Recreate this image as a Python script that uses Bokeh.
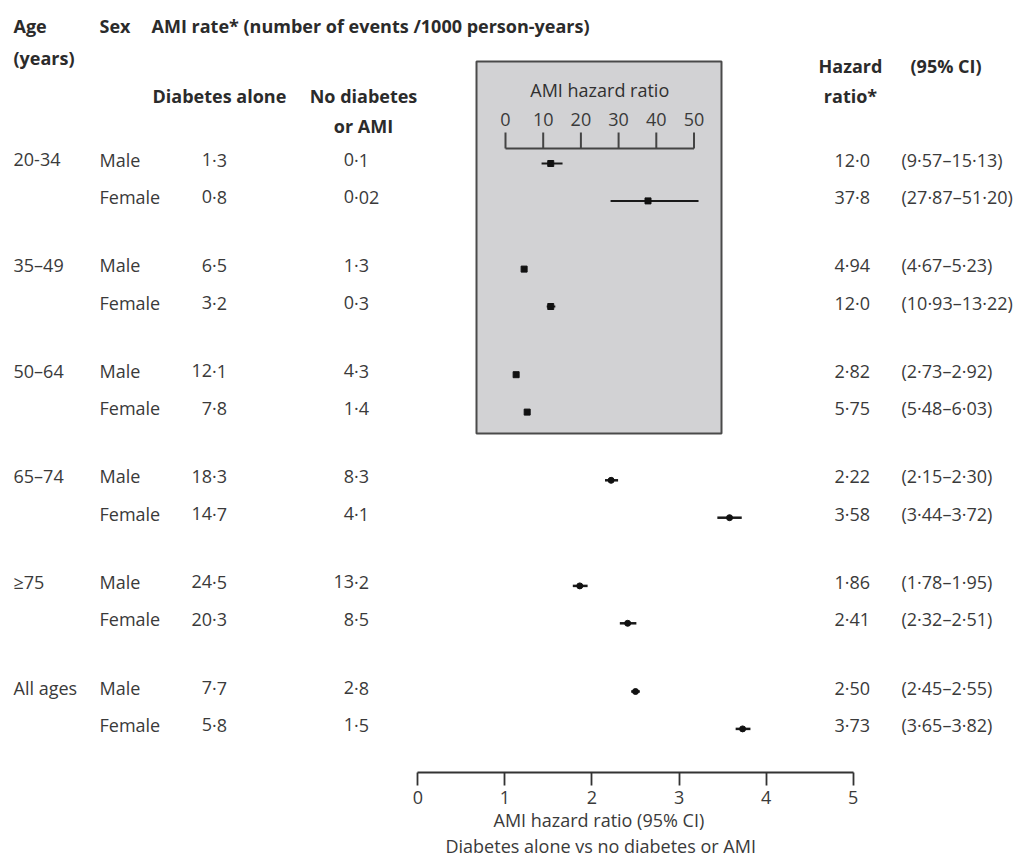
from bokeh.plotting import figure
from bokeh.models import Range1d, LinearAxis, FixedTicker, Title, ColumnDataSource
from bokeh.core.properties import value
from bokeh.embed import file_html
from bokeh.resources import INLINE

# ---------------------------------------------------------------- data
age_groups = ["20-34", "35–49", "50–64", "65–74", "≥75", "All ages"]
sexes = ["Male", "Female"]

# AMI events per 1000 person-years
rate_diabetes = [1.3, 0.8, 6.5, 3.2, 12.1, 7.8, 18.3, 14.7, 24.5, 20.3, 7.7, 5.8]
rate_no_diabetes = [0.1, 0.02, 1.3, 0.3, 4.3, 1.4, 8.3, 4.1, 13.2, 8.5, 2.8, 1.5]

# hazard ratio, diabetes alone vs no diabetes or AMI, with 95% CI
hazard_ratio = [12.0, 37.8, 4.94, 12.0, 2.82, 5.75, 2.22, 3.58, 1.86, 2.41, 2.50, 3.73]
ci_low = [9.57, 27.87, 4.67, 10.93, 2.73, 5.48, 2.15, 3.44, 1.78, 2.32, 2.45, 3.65]
ci_high = [15.13, 51.20, 5.23, 13.22, 2.92, 6.03, 2.30, 3.72, 1.95, 2.51, 2.55, 3.82]

main_ticks = [0, 1, 2, 3, 4, 5]
inset_ticks = [0, 10, 20, 30, 40, 50]
INSET_ROWS = 6          # the three youngest age bands use the 0-50 inset scale

# ---------------------------------------------------------------- layout
W, H = 1019, 868
AXIS_Y = 772                       # bottom of the plotting frame / main axis line
ROW0, GROUP_STEP, SEX_STEP = 159, 105.6, 37.4
POINT_DY = 4
MAIN_PX0, MAIN_PX5 = 417.3, 852.7  # pixel positions of HR 0 and HR 5
INSET_PX0, INSET_PX50 = 505.0, 693.5
INSET_BOX = dict(left=476, right=721, top=61, bottom=433)
INSET_AXIS_Y, INSET_TICK_TOP, INSET_LABEL_Y, INSET_TITLE_Y = 148, 132, 119, 89

FONT = "Open Sans"
TXT = "#3a3a3a"
HEAD = "#2b2b2b"
FS = "18px"


def dotted(s):
    return s.replace(".", "·")


def fmt_hr(v):
    return dotted(f"{v:.1f}" if v >= 10 else f"{v:.2f}")


row_y = []
for i in range(len(hazard_ratio)):
    g, s = divmod(i, 2)
    row_y.append(ROW0 + g * GROUP_STEP + s * SEX_STEP)

main_ppu = (MAIN_PX5 - MAIN_PX0) / 5
inset_ppu = (INSET_PX50 - INSET_PX0) / 50

p = figure(
    width=W, height=H,
    x_range=Range1d(0, W), y_range=Range1d(AXIS_Y, 0),
    x_axis_type=None, y_axis_type=None,
    toolbar_location=None, output_backend="svg",
    min_border_left=0, min_border_right=0, min_border_top=0,
    min_border_bottom=H - AXIS_Y,
)
p.outline_line_color = None
p.background_fill_color = "white"
p.border_fill_color = "white"
p.extra_x_ranges = {
    "hr": Range1d(-MAIN_PX0 / main_ppu, (W - MAIN_PX0) / main_ppu),
    "inset": Range1d(-INSET_PX0 / inset_ppu, (W - INSET_PX0) / inset_ppu),
}


def txt(x, y, text, align="left", bold=False, size=FS, color=None, **kw):
    p.text(x=x, y=y, text=text, text_align=align, text_baseline="middle",
           text_font=value(FONT), text_font_size=value(size),
           text_font_style="bold" if bold else "normal",
           text_color=color or (HEAD if bold else TXT), **kw)


# ---------------------------------------------------------------- headers
txt([13], [25], ["Age"], bold=True)
txt([13], [57], ["(years)"], bold=True)
txt([99], [25], ["Sex"], bold=True)
txt([151], [25], ["AMI rate* (number of events /1000 person-years)"], bold=True)
txt([152], [95], ["Diabetes alone"], bold=True)
txt([363, 363], [95, 125], ["No diabetes", "or AMI"], align="center", bold=True)
txt([850, 850], [65, 95], ["Hazard", "ratio*"], align="center", bold=True)
txt([910], [65], ["(95% CI)"], bold=True)

# ---------------------------------------------------------------- table columns
male_y = row_y[0::2]
txt([13] * len(age_groups), male_y, age_groups)
txt([99] * len(row_y), row_y, [sexes[i % 2] for i in range(len(row_y))])


def decimal_column(values, dot_x):
    strs = [f"{v:g}" for v in values]
    ints = [s.split(".")[0] for s in strs]
    fracs = ["·" + s.split(".")[1] for s in strs]
    txt([dot_x - 2.4] * len(strs), row_y, ints, align="right")
    txt([dot_x - 2.4] * len(strs), row_y, fracs, align="left")


decimal_column(rate_diabetes, 214)
decimal_column(rate_no_diabetes, 356)

txt([834] * len(row_y), row_y, [fmt_hr(v) for v in hazard_ratio])
txt([901] * len(row_y), row_y,
    [dotted(f"({lo:.2f}–{hi:.2f})") for lo, hi in zip(ci_low, ci_high)])

# ---------------------------------------------------------------- inset (0-50 scale)
p.quad(**INSET_BOX, fill_color="#d2d2d4", line_color="#4a4a4a", line_width=2)

p.segment(x0=[inset_ticks[0]], x1=[inset_ticks[-1]],
          y0=[INSET_AXIS_Y], y1=[INSET_AXIS_Y],
          x_range_name="inset", line_color="#444444", line_width=2)
p.segment(x0=inset_ticks, x1=inset_ticks,
          y0=[INSET_AXIS_Y] * len(inset_ticks), y1=[INSET_TICK_TOP] * len(inset_ticks),
          x_range_name="inset", line_color="#444444", line_width=2)
txt(inset_ticks, [INSET_LABEL_Y] * len(inset_ticks), [str(t) for t in inset_ticks],
    align="center", x_range_name="inset")
txt([(inset_ticks[0] + inset_ticks[-1]) / 2], [INSET_TITLE_Y], ["AMI hazard ratio"],
    align="center", x_range_name="inset", color="#303030")

inset_src = ColumnDataSource(dict(
    hr=hazard_ratio[:INSET_ROWS], lo=ci_low[:INSET_ROWS], hi=ci_high[:INSET_ROWS],
    y=[y + POINT_DY for y in row_y[:INSET_ROWS]],
))
p.segment(x0="lo", x1="hi", y0="y", y1="y", source=inset_src,
          x_range_name="inset", line_color="#1a1a1a", line_width=2)
p.scatter(x="hr", y="y", source=inset_src, x_range_name="inset",
          marker="square", size=6, fill_color="#111111", line_color="#111111")

# ---------------------------------------------------------------- main panel (0-5 scale)
main_src = ColumnDataSource(dict(
    hr=hazard_ratio[INSET_ROWS:], lo=ci_low[INSET_ROWS:], hi=ci_high[INSET_ROWS:],
    y=[y + POINT_DY for y in row_y[INSET_ROWS:]],
))
p.segment(x0="lo", x1="hi", y0="y", y1="y", source=main_src,
          x_range_name="hr", line_color="#1a1a1a", line_width=2.5)
p.scatter(x="hr", y="y", source=main_src, x_range_name="hr",
          marker="circle", size=6, fill_color="#111111", line_color="#111111")

axis = LinearAxis(x_range_name="hr", ticker=FixedTicker(ticks=main_ticks), bounds=(0, 5))
axis.axis_line_color = "#333333"
axis.axis_line_width = 1.8
axis.major_tick_line_color = "#333333"
axis.major_tick_line_width = 1.8
axis.major_tick_in = 0
axis.major_tick_out = 13
axis.minor_tick_in = 0
axis.minor_tick_out = 0
axis.major_label_standoff = 5
axis.major_label_text_font = FONT
axis.major_label_text_font_size = FS
axis.major_label_text_color = TXT
p.add_layout(axis, "below")

# two caption lines under the hazard-ratio axis
for text, left in [("AMI hazard ratio (95% CI)", 493),
                   ("Diabetes alone vs no diabetes or AMI", 445)]:
    p.add_layout(Title(text=text, align="left", offset=left, standoff=0,
                       vertical_align="middle", text_font=FONT, text_font_size=FS,
                       text_font_style="normal", text_color=TXT), "below")

open("out.html", "w").write(file_html(p, INLINE))
